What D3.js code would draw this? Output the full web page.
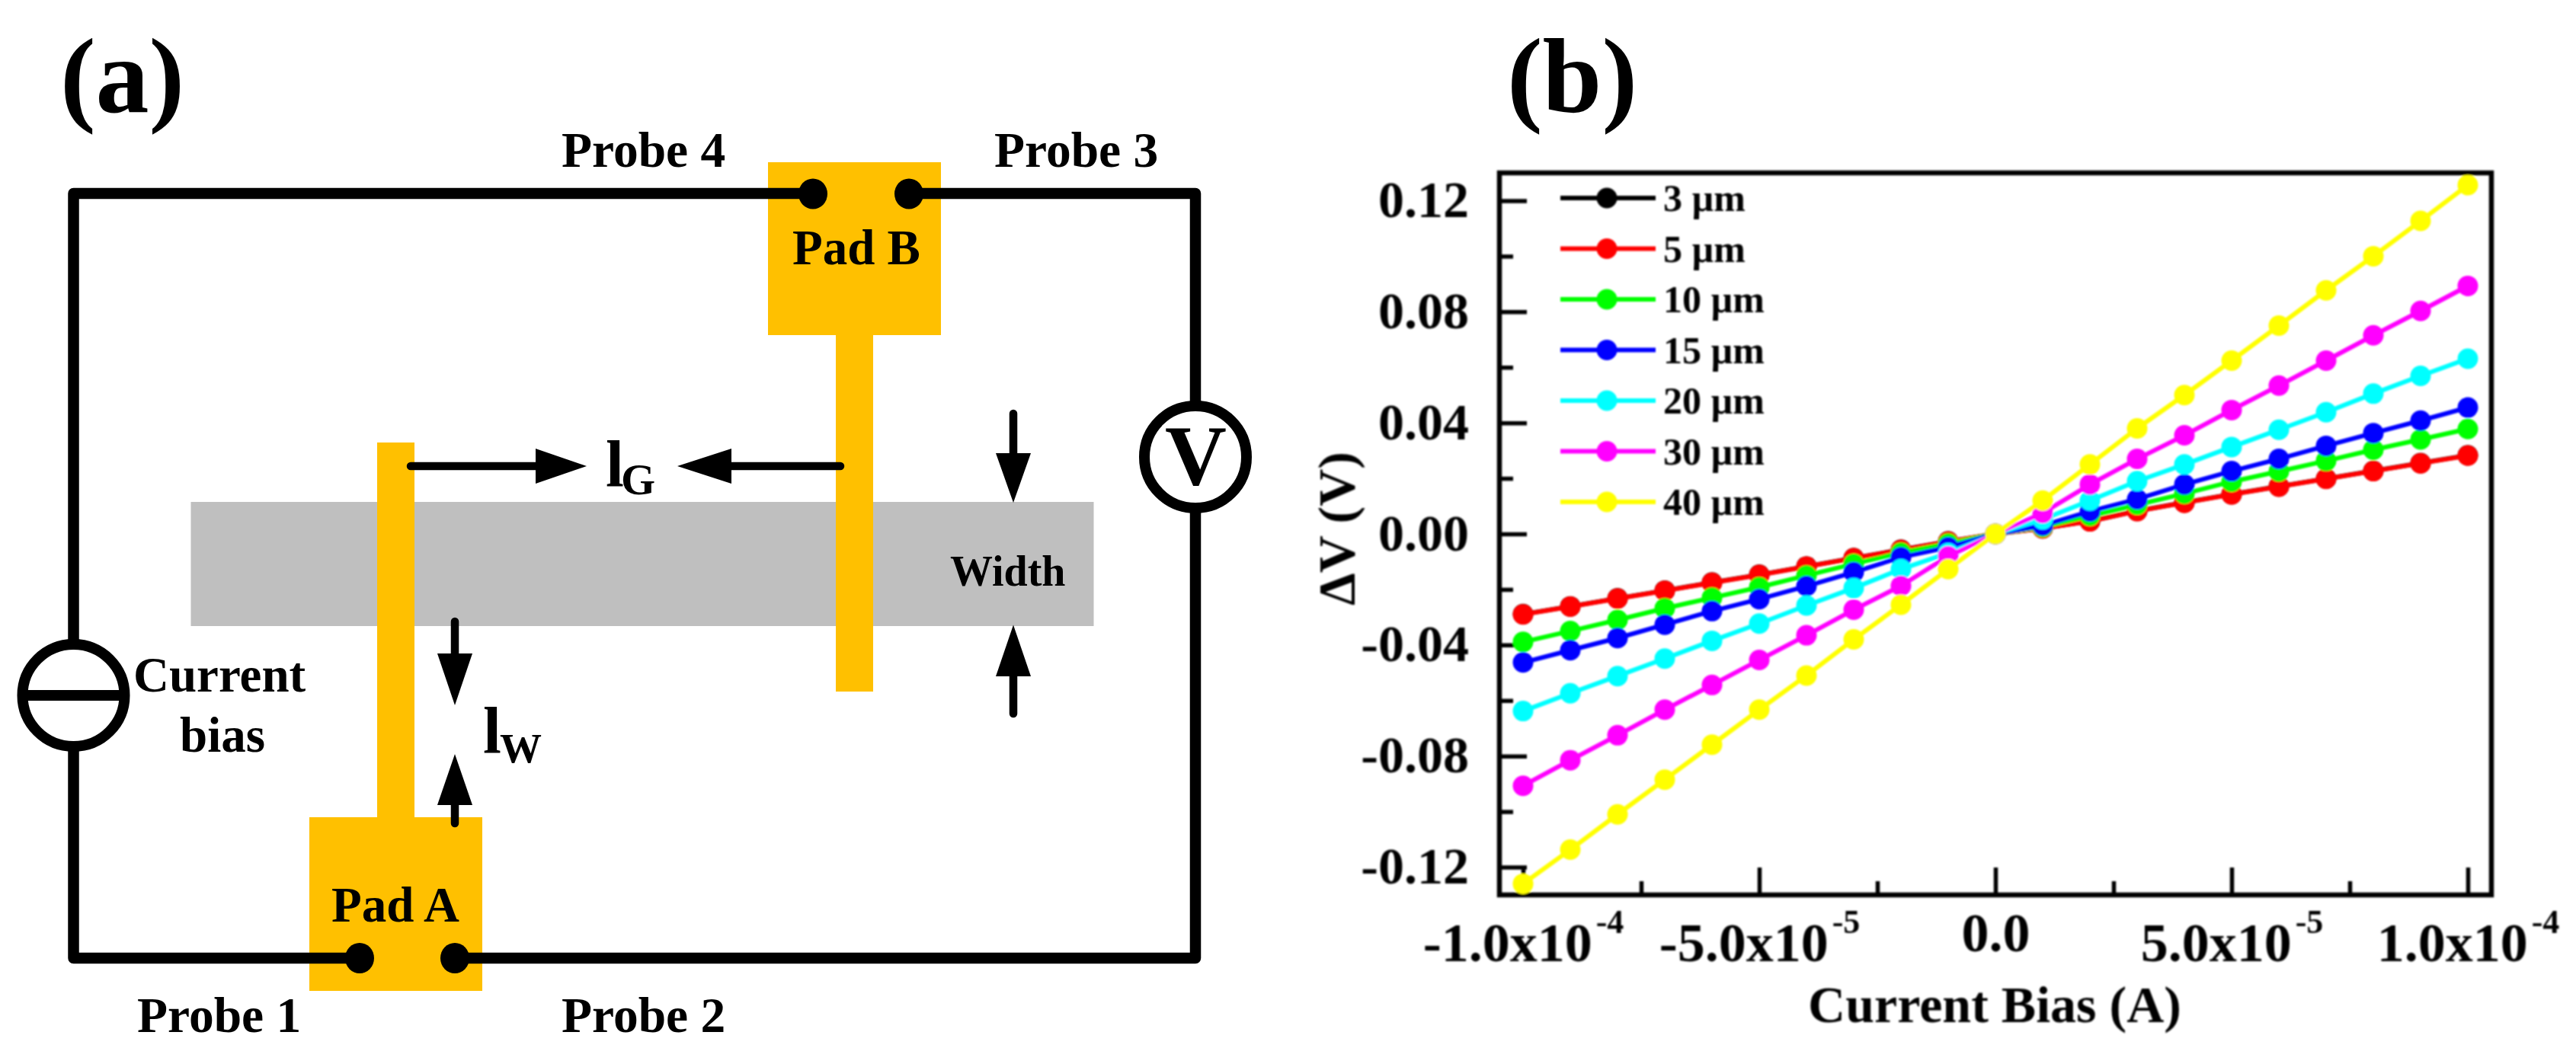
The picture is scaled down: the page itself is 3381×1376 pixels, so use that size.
<!DOCTYPE html>
<html>
<head>
<meta charset="utf-8">
<script src="https://cdn.jsdelivr.net/npm/d3@7"></script>
<style>
html,body{margin:0;padding:0;background:#fff;overflow:hidden}
text{font-family:"Liberation Serif",serif;font-weight:bold;fill:#000}
</style>
</head>
<body>
<svg id="c" width="3381" height="1376" xmlns="http://www.w3.org/2000/svg"></svg>
<script>
// ---------- chart data (b) ----------
const currentBias = [-1e-4,-9e-5,-8e-5,-7e-5,-6e-5,-5e-5,-4e-5,-3e-5,-2e-5,-1e-5,0,1e-5,2e-5,3e-5,4e-5,5e-5,6e-5,7e-5,8e-5,9e-5,1e-4];
const v3um  = [-.0289,-.0261,-.0232,-.0204,-.0175,-.0147,-.0117,-.0087,-.0057,-.0027,0,.0020,.0046,.0083,.0113,.0143,.0171,.0199,.0227,.0255,.0283];
const v5um  = [-.0290,-.0262,-.0233,-.0205,-.0176,-.0148,-.0118,-.0088,-.0058,-.0028,0,.0020,.0045,.0082,.0112,.0142,.0170,.0198,.0226,.0254,.0282];
const v10um = [-.0389,-.0350,-.0310,-.0268,-.0230,-.0192,-.0150,-.0108,-.0068,-.0035,0,.0025,.0065,.0105,.0145,.0188,.0225,.0263,.0303,.0340,.0378];
const v15um = [-.0463,-.0419,-.0375,-.0327,-.0278,-.0235,-.0188,-.0138,-.0084,-.0048,0,.0030,.0081,.0125,.0178,.0226,.0270,.0317,.0363,.0408,.0455];
const v20um = [-.0638,-.0574,-.0512,-.0449,-.0385,-.0323,-.0258,-.0195,-.0127,-.0069,0,.0052,.0120,.0190,.0250,.0313,.0375,.0438,.0505,.0569,.0631];
const v30um = [-.0907,-.0815,-.0725,-.0633,-.0544,-.0454,-.0365,-.0273,-.0187,-.0080,0,.0075,.0178,.0270,.0355,.0446,.0534,.0624,.0715,.0803,.0893];
const v40um = [-.1260,-.1137,-.1010,-.0885,-.0759,-.0633,-.0510,-.0380,-.0255,-.0127,0,.0120,.0250,.0380,.0500,.0624,.0750,.0877,.1000,.1127,.1256];
const seriesNames = ["3 \u00b5m","5 \u00b5m","10 \u00b5m","15 \u00b5m","20 \u00b5m","30 \u00b5m","40 \u00b5m"];
const seriesValues = [v3um,v5um,v10um,v15um,v20um,v30um,v40um];
const seriesColors = ["#000000","#ff0000","#00ff00","#0000ff","#00ffff","#ff00ff","#ffff00"];
const yMajorTicks = [-.12,-.08,-.04,0,.04,.08,.12];
const yMinorTicks = [-.10,-.06,-.02,.02,.06,.10];
const xMajorTicks = [-1e-4,-5e-5,0,5e-5,1e-4];
const xMinorTicks = [-7.5e-5,-2.5e-5,2.5e-5,7.5e-5];
const xTickMain = ["-1.0x10","-5.0x10","0.0","5.0x10","1.0x10"];
const xTickExp  = ["-4","-5","","-5","-4"];
const yTickLabels = ["-0.12","-0.08","-0.04","0.00","0.04","0.08","0.12"];

// ---------- schematic (a) ----------
const padColor="#FFC000", bandColor="#BFBFBF";
const schemRects=[
 {x:250.5,y:659,w:1185,h:163,c:bandColor},
 {x:1008,y:213,w:227,h:227,c:padColor},
 {x:1097,y:440,w:49,h:468,c:padColor},
 {x:406,y:1073,w:227,h:228,c:padColor},
 {x:495,y:581,w:49,h:492,c:padColor}
];
const wirePath="M1068,254H96.5V1258H472M597,1258H1569V254H1193";
const probes=[[1067,254.5],[1193,254.5],[472,1258],[597,1258]];
const arrows=[ // start, tip, head base (axis aligned)
 {x1:539,y1:612,x2:770,y2:612,b:703},
 {x1:1103,y1:612,x2:889,y2:612,b:960},
 {x1:1330,y1:543,x2:1330,y2:660,b:595},
 {x1:1330,y1:937,x2:1330,y2:820.5,b:888},
 {x1:597,y1:816,x2:597,y2:926,b:858},
 {x1:597,y1:1081,x2:597,y2:990,b:1057}
];
const schemLabels=[
 {t:"(a)",x:79,y:147,s:140},
 {t:"Probe 4",x:737,y:219,s:65.5},
 {t:"Probe 3",x:1305,y:219,s:65.5},
 {t:"Probe 1",x:180,y:1355,s:65.5},
 {t:"Probe 2",x:737,y:1355,s:65.5},
 {t:"Pad B",x:1040,y:347,s:65},
 {t:"Pad A",x:435,y:1210,s:65},
 {t:"Width",x:1247,y:769,s:56},
 {t:"Current",x:175,y:908,s:65},
 {t:"bias",x:236,y:986.5,s:65},
 {t:"l",x:795,y:638,s:86},
 {t:"G",x:815,y:649,s:58},
 {t:"l",x:634,y:987.5,s:86},
 {t:"W",x:656,y:1000.5,s:55},
 {t:"V",x:1529,y:636,s:112}
];

const svg=d3.select("#c");
const defs=svg.append("defs");
defs.append("filter").attr("id","soft").attr("x","-5%").attr("y","-5%").attr("width","110%").attr("height","110%")
  .append("feGaussianBlur").attr("stdDeviation",0.9);

// ---- panel (a) ----
const a=svg.append("g");
a.selectAll("rect.s").data(schemRects).join("rect").attr("class","s")
  .attr("x",d=>d.x).attr("y",d=>d.y).attr("width",d=>d.w).attr("height",d=>d.h).attr("fill",d=>d.c);
a.append("path").attr("d",wirePath).attr("fill","none").attr("stroke","#000").attr("stroke-width",14.5).attr("stroke-linejoin","round").attr("stroke-linecap","round");
a.selectAll("ellipse.p").data(probes).join("ellipse").attr("class","p")
  .attr("cx",d=>d[0]).attr("cy",d=>d[1]).attr("rx",19).attr("ry",20).attr("fill","#000");
[[1569,600],[96.5,913]].forEach(c=>{
  a.append("circle").attr("cx",c[0]).attr("cy",c[1]).attr("r",67).attr("fill","#fff").attr("stroke","#000").attr("stroke-width",14);
});
a.append("line").attr("x1",36).attr("x2",157).attr("y1",913).attr("y2",913).attr("stroke","#000").attr("stroke-width",14);
arrows.forEach(d=>{
  const horiz=d.y1===d.y2, hw=23;
  const lineEnd=horiz?{x:d.b,y:d.y1}:{x:d.x1,y:d.b};
  a.append("line").attr("x1",d.x1).attr("y1",d.y1).attr("x2",lineEnd.x).attr("y2",lineEnd.y)
    .attr("stroke","#000").attr("stroke-width",10.5).attr("stroke-linecap","round");
  const pts=horiz?[[d.x2,d.y2],[d.b,d.y2-hw],[d.b,d.y2+hw]]:[[d.x2,d.y2],[d.x2-hw,d.b],[d.x2+hw,d.b]];
  a.append("polygon").attr("points",pts.map(p=>p.join(",")).join(" ")).attr("fill","#000");
});
a.selectAll("text.l").data(schemLabels).join("text").attr("class","l")
  .attr("x",d=>d.x).attr("y",d=>d.y).attr("font-size",d=>d.s).text(d=>d.t);
svg.append("text").attr("x",1978).attr("y",147).attr("font-size",140).text("(b)");

// ---- panel (b) ----
const b=svg.append("g").attr("filter","url(#soft)");
const x=d3.scaleLinear().domain([-1.05e-4,1.05e-4]).range([1968,3270]);
const y=d3.scaleLinear().domain([-.13,.13]).range([1175,227]);
const line=d3.line().x((d,i)=>x(currentBias[i])).y(d=>y(d));

function axisStyle(g){
  g.select(".domain").remove();
  g.selectAll("line").attr("stroke","#000").attr("stroke-width",5.5);
}
// minor + major ticks, all inward
b.append("g").attr("transform","translate(1968,0)")
  .call(d3.axisLeft(y).tickValues(yMinorTicks).tickSize(-18).tickFormat("")).call(axisStyle);
b.append("g").attr("transform","translate(0,1175)")
  .call(d3.axisBottom(x).tickValues(xMinorTicks).tickSize(-18).tickFormat("")).call(axisStyle);
const yA=b.append("g").attr("transform","translate(1968,0)")
  .call(d3.axisLeft(y).tickValues(yMajorTicks).tickSize(-36).tickPadding(40).tickFormat((d,i)=>yTickLabels[i])).call(axisStyle);
yA.selectAll("text").attr("font-size",68).attr("font-family",null).attr("dy",null).attr("y",21).attr("fill","#000");
yA.attr("font-family",null).attr("font-size",null);
const xA=b.append("g").attr("transform","translate(0,1175)")
  .call(d3.axisBottom(x).tickValues(xMajorTicks).tickSize(-36).tickFormat("")).call(axisStyle);
xA.attr("font-family",null).attr("font-size",null);
xA.selectAll(".tick text").each(function(d,i){
  const t=d3.select(this).attr("dy",null).attr("y",xTickExp[i]?87:74).attr("font-size",72).attr("fill","#000");
  t.append("tspan").text(xTickMain[i]);
  if(xTickExp[i]) t.append("tspan").attr("font-size",44).attr("dx",5).attr("dy",-37).text(xTickExp[i]);
});
// frame
b.append("rect").attr("x",1968).attr("y",227).attr("width",1302).attr("height",948)
  .attr("fill","none").attr("stroke","#000").attr("stroke-width",6.5);
// series
const gs=b.selectAll("g.series").data(seriesValues).join("g").attr("class","series");
gs.append("path").attr("d",d=>line(d)).attr("fill","none").attr("stroke",(d,i)=>seriesColors[i]).attr("stroke-width",6);
gs.each(function(vals,si){
  d3.select(this).selectAll("circle").data(vals).join("circle")
    .attr("cx",(d,i)=>x(currentBias[i])).attr("cy",d=>y(d)).attr("r",13.5).attr("fill",seriesColors[si]);
});
// legend
const lg=b.selectAll("g.leg").data(seriesNames).join("g").attr("class","leg")
  .attr("transform",(d,i)=>`translate(0,${d3.scaleLinear().domain([0,6]).range([260,659])(i)})`);
lg.append("line").attr("x1",2048).attr("x2",2173).attr("y1",0).attr("y2",0).attr("stroke",(d,i)=>seriesColors[i]).attr("stroke-width",6);
lg.append("circle").attr("cx",2109).attr("cy",0).attr("r",13.5).attr("fill",(d,i)=>seriesColors[i]);
lg.append("text").attr("x",2183).attr("y",17).attr("font-size",50).text(d=>d);
// axis titles
b.append("text").attr("x",2618).attr("y",1342).attr("text-anchor","middle").attr("font-size",68).text("Current Bias (A)");
b.append("text").attr("transform","translate(1777,694) rotate(-90)").attr("text-anchor","middle").attr("font-size",68).text("\u0394V (V)");
</script>
</body>
</html>
